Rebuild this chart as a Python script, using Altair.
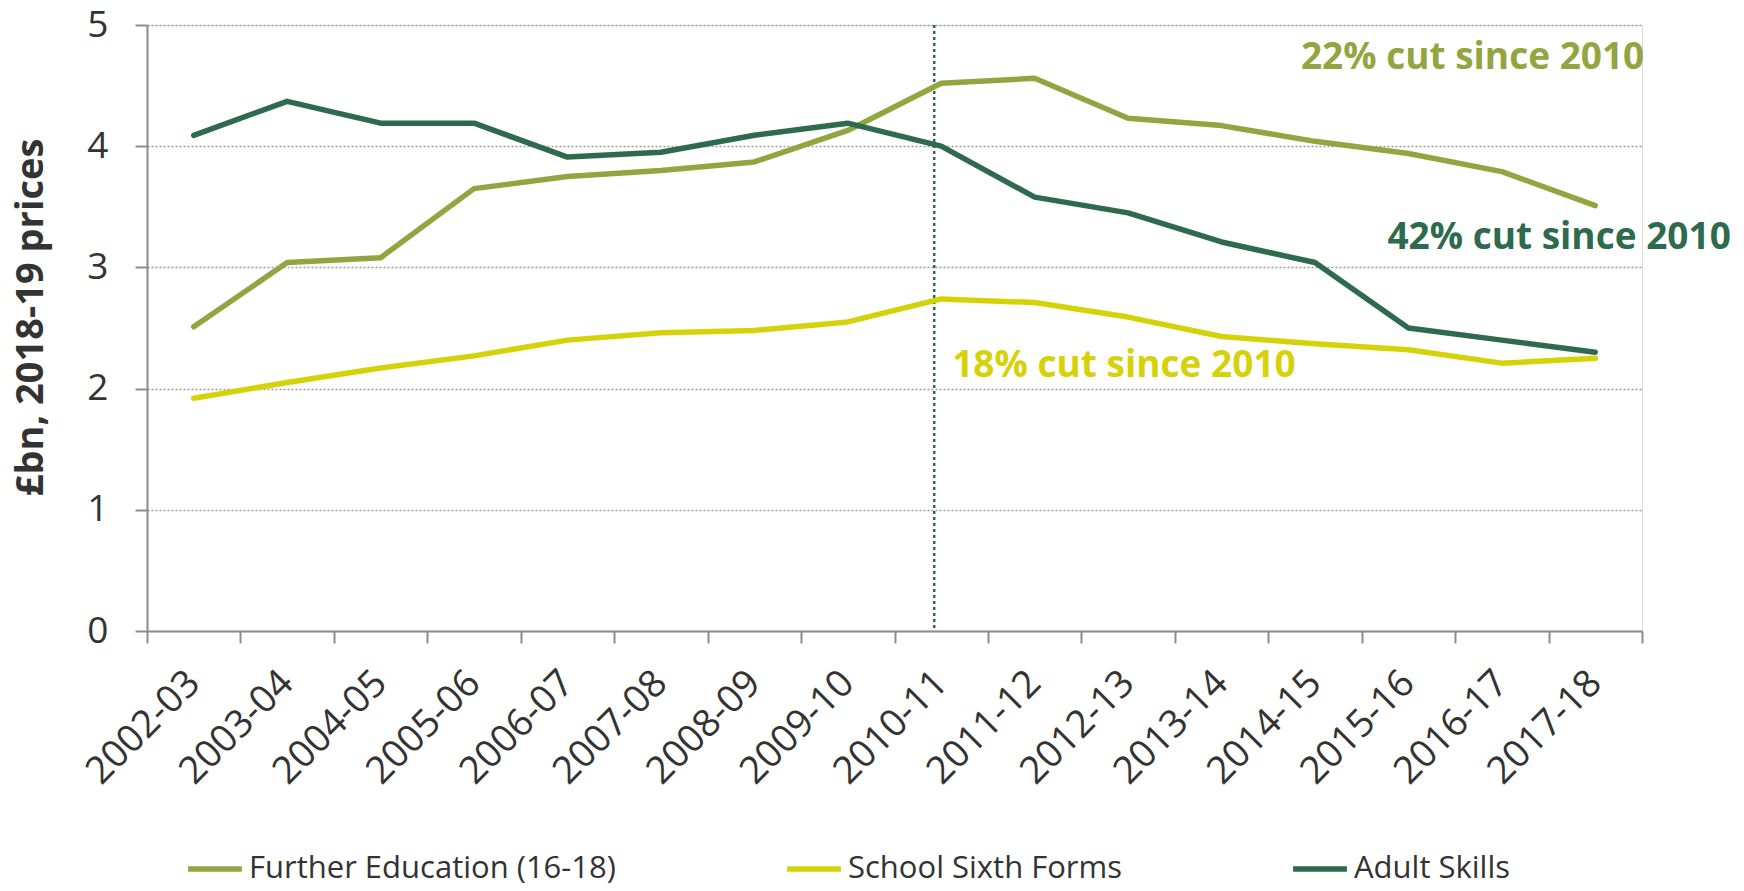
import altair as alt
import pandas as pd

years = ["2002-03", "2003-04", "2004-05", "2005-06", "2006-07", "2007-08", "2008-09",
         "2009-10", "2010-11", "2011-12", "2012-13", "2013-14", "2014-15", "2015-16",
         "2016-17", "2017-18"]
further_education = [2.51, 3.04, 3.08, 3.65, 3.75, 3.80, 3.87, 4.13, 4.52, 4.56, 4.23, 4.17, 4.04, 3.94, 3.79, 3.51]
school_sixth_forms = [1.92, 2.05, 2.17, 2.27, 2.40, 2.46, 2.48, 2.55, 2.74, 2.71, 2.59, 2.43, 2.37, 2.32, 2.21, 2.25]
adult_skills = [4.09, 4.37, 4.19, 4.19, 3.91, 3.95, 4.09, 4.19, 4.00, 3.58, 3.45, 3.21, 3.04, 2.50, 2.40, 2.30]

series_names = ["Further Education (16-18)", "School Sixth Forms", "Adult Skills"]
series_colors = ["#93A540", "#D6D20A", "#2E6A4E"]

marker_year = ["2010-11"]

annot_text = ["22% cut since 2010", "42% cut since 2010", "18% cut since 2010"]
annot_year = ["2017-18", "2015-16", "2010-11"]
annot_value = [4.73, 3.24, 2.19]

FONT = "Open Sans"

rows = []
for name, vals in zip(series_names, [further_education, school_sixth_forms, adult_skills]):
    for y, v in zip(years, vals):
        rows.append({"year": y, "value": v, "series": name})
df = pd.DataFrame(rows)

x_scale = alt.Scale(type="band", domain=years, paddingInner=0, paddingOuter=0)

x_axis = alt.Axis(
    title=None, labelAngle=-45, labelAlign="right", labelBaseline="middle",
    labelFont=FONT, labelFontSize=38, labelColor="#333333", labelPadding=34,
    tickSize=12, tickColor="#8c8c8c", tickWidth=2, domainColor="#8c8c8c", domainWidth=2,
    tickBand="extent", grid=False, labelOverlap=False,
)
y_axis = alt.Axis(
    values=[0, 1, 2, 3, 4, 5], format="d", grid=True, gridDash=[2, 2], gridColor="#9a9a9a",
    gridWidth=1.5, domainColor="#8c8c8c", domainWidth=2, tickSize=12, tickColor="#8c8c8c",
    tickWidth=2, labelFont=FONT, labelFontSize=37, labelColor="#333333", labelPadding=27,
    title="£bn, 2018-19 prices", titleFont=FONT, titleFontSize=38, titleFontWeight="bold",
    titleColor="#333333", titleX=-116, titleY=292, titleAngle=-90, titleAlign="center",
    titleBaseline="middle",
)

lines = alt.Chart(df).mark_line(strokeWidth=5.5, strokeCap="round", strokeJoin="round").encode(
    x=alt.X("year:O", scale=x_scale, axis=x_axis, bandPosition=0.5),
    y=alt.Y("value:Q", scale=alt.Scale(domain=[0, 5], nice=False), axis=y_axis),
    color=alt.Color(
        "series:N",
        scale=alt.Scale(domain=series_names, range=series_colors),
        sort=series_names,
        legend=alt.Legend(
            title=None, orient="none", legendX=38, legendY=814, direction="horizontal",
            symbolType="stroke", symbolSize=2900, symbolStrokeWidth=5.5,
            labelFont=FONT, labelFontSize=31, labelColor="#333333", labelLimit=0,
            columnPadding=160, labelOffset=4, padding=0,
        ),
    ),
    order=alt.Order("series:N"),
)

rule = alt.Chart(pd.DataFrame({"year": marker_year})).mark_rule(
    color="#2E6A4E", strokeDash=[3, 3], strokeWidth=2.5, xOffset=-7
).encode(x=alt.X("year:O", scale=x_scale, bandPosition=0.5))

ann = pd.DataFrame({"text": annot_text, "year": annot_year, "value": annot_value})

def ann_layer(i, align, dx):
    return alt.Chart(ann.iloc[[i]]).mark_text(
        align=align, baseline="middle", dx=dx, font=FONT, fontSize=37, fontWeight="bold",
        color=series_colors[[0, 2, 1][i]],
    ).encode(
        x=alt.X("year:O", scale=x_scale, bandPosition=0.5),
        y=alt.Y("value:Q"),
        text="text:N",
    )

t1 = ann_layer(0, "right", 49)
t2 = ann_layer(1, "left", -21)
t3 = ann_layer(2, "left", 11)

chart = alt.layer(rule, lines, t1, t2, t3).properties(
    width=1495, height=606,
    autosize=alt.AutoSizeParams(type="none"),
    padding={"left": 139, "top": 17, "right": 90, "bottom": 252},
).configure_view(stroke=None).configure(background="white")

chart.save("out.html", embed_options={"renderer": "svg", "actions": False})
